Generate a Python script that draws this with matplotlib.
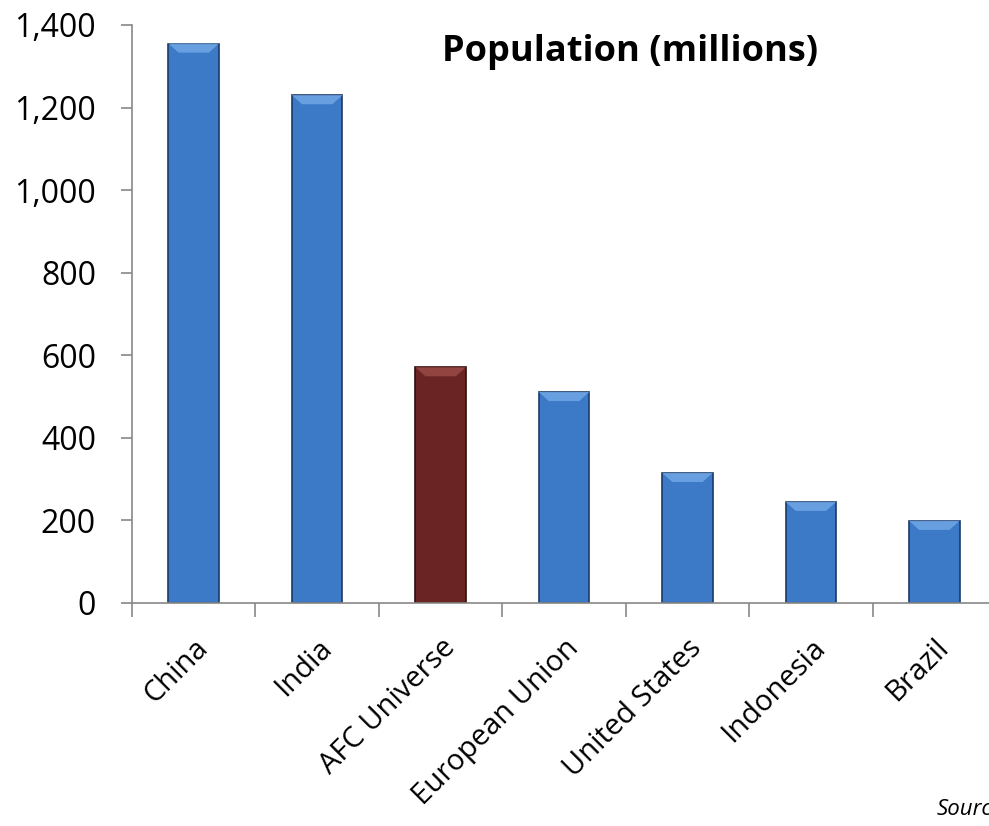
import matplotlib.pyplot as plt
from matplotlib.patches import Polygon
import numpy as np

# population, millions
countries = ['China', 'India', 'AFC Universe', 'European Union', 'United States', 'Indonesia', 'Brazil']
population = [1355, 1230, 571, 511, 315, 245, 199]
colors = ['#3c79c6', '#3c79c6', '#6a2423', '#3c79c6', '#3c79c6', '#3c79c6', '#3c79c6']
edges = ['#1c3a66', '#1c3a66', '#2e0e0e', '#1c3a66', '#1c3a66', '#1c3a66', '#1c3a66']
tops = ['#6fa6e6', '#6fa6e6', '#9a4a47', '#6fa6e6', '#6fa6e6', '#6fa6e6', '#6fa6e6']

plt.rcParams['font.family'] = ['Open Sans', 'DejaVu Sans']

fig = plt.figure(figsize=(9.89, 8.26), dpi=100)
ax = fig.add_axes([0.1335, 0.27, 0.8736, 0.6998])

x = np.arange(len(countries))
bars = ax.bar(x, population, width=0.41, color=colors, edgecolor=edges, linewidth=1.2, zorder=2)

# bevel on top of each bar
for b, tc in zip(bars, tops):
    x0 = b.get_x()
    w = b.get_width()
    h = b.get_height()
    d = 22  # bevel depth in data units
    inset = w * 0.2
    poly = Polygon([(x0, h), (x0 + w, h), (x0 + w - inset, h - d), (x0 + inset, h - d)],
                   closed=True, facecolor=tc, edgecolor='none', alpha=0.85, zorder=3)
    ax.add_patch(poly)

ax.set_xlim(-0.5, len(countries) - 0.5)
ax.set_ylim(0, 1400)
ax.set_yticks(range(0, 1401, 200))
ax.set_yticklabels([f'{v:,}' for v in range(0, 1401, 200)], fontsize=23)

ax.set_xticks(x)
ax.set_xticklabels(countries, rotation=45, ha='right', rotation_mode='anchor', fontsize=21)
ax.tick_params(axis='x', length=0, pad=22)
ax.set_xticks(np.arange(len(countries) + 1) - 0.5, minor=True)
ax.tick_params(axis='x', which='minor', length=10, color='#888888', width=1.2)
ax.tick_params(axis='y', length=8, color='#888888', width=1.2, pad=18)

for s in ['top', 'right']:
    ax.spines[s].set_visible(False)
for s in ['left', 'bottom']:
    ax.spines[s].set_color('#888888')
    ax.spines[s].set_linewidth(1.2)

fig.text(0.637, 0.937, 'Population (millions)', ha='center', va='center',
         fontsize=26, fontweight='bold')
fig.text(0.947, 0.02, 'Source:', ha='left', va='center', fontsize=16, style='italic')

fig.savefig('out.png', dpi=100)
